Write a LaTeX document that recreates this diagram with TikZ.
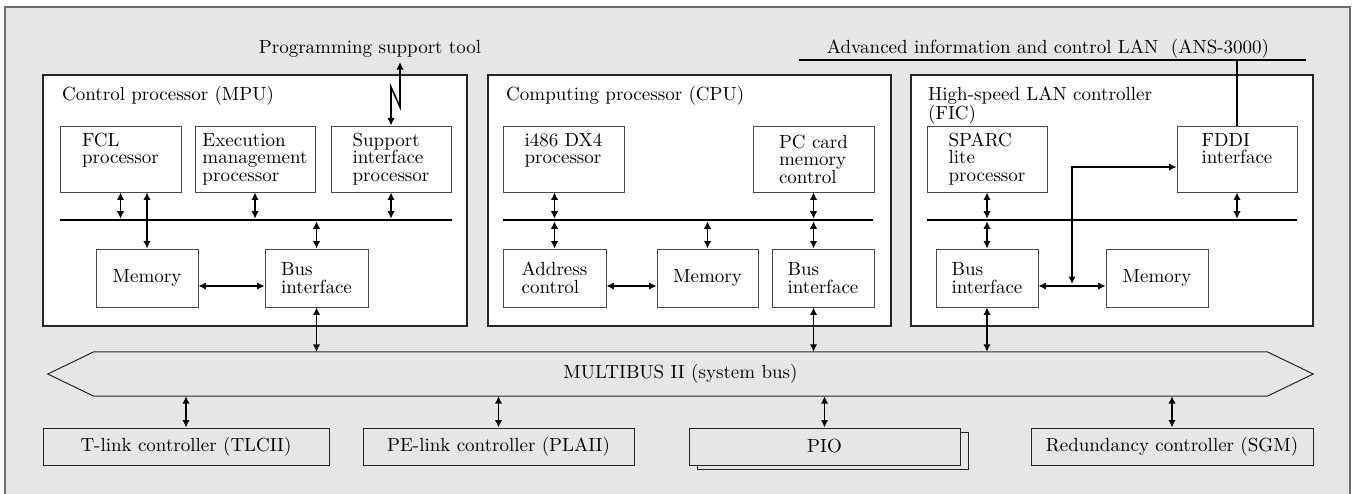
\documentclass[tikz,border=0pt]{standalone}
\usetikzlibrary{arrows.meta}
\definecolor{bg}{HTML}{E6E6E6}
\definecolor{frm}{HTML}{6E6E6E}
\definecolor{ibd}{HTML}{4A4A4A}
\font\bigrm="[lmroman10-regular]:mapping=tex-text" at 19pt
\newcommand\myfs{\fontsize{19}{17.5}\selectfont\bigrm}
\tikzset{
  ibox/.style={draw=ibd, line width=0.9pt, fill=white, inner sep=0pt, align=left, font=\myfs},
  mainbox/.style={draw=black!85, line width=1.2pt, fill=white, inner sep=0pt},
  lowbox/.style={draw=black!85, line width=1pt, fill=bg, inner sep=0pt, minimum height=37pt, font=\myfs},
  biar/.style={{Latex[length=7.5pt,width=7.5pt]}-{Latex[length=7.5pt,width=7.5pt]}, line width=1.6pt},
  busline/.style={line width=2.6pt},
  ttl/.style={font=\myfs, inner sep=0pt}
}
\begin{document}
\begin{tikzpicture}[x=1pt,y=-1pt]
\useasboundingbox (0,0) rectangle (1356,493);
\fill[white] (0,0) rectangle (1356,493);
\draw[frm, line width=1.2pt, fill=bg] (5,7) rectangle (1350,505);

% top texts
\node[ttl, anchor=base] (pst) at (370,53) {Programming support tool};
\node[ttl, anchor=base] (lan) at (1048,53) {Advanced information and control LAN\ \ (ANS-3000)};
\coordinate (lanL) at (799,60);
\coordinate (lanR) at (1306,60);
\draw[line width=1.2pt] (lanL) -- (lanR);

% main boxes
\node[mainbox, minimum width=424pt, minimum height=251pt] (mpu) at (255,200.5) {};
\node[mainbox, minimum width=403pt, minimum height=251pt] (cpu) at (689.5,200.5) {};
\node[mainbox, minimum width=402pt, minimum height=251pt] (fic) at (1112,200.5) {};
\node[ttl, anchor=base west] (mputtl) at (62,100) {Control processor (MPU)};
\node[ttl, anchor=base west] (cputtl) at (506,100) {Computing processor (CPU)};
\node[ttl, anchor=north west, align=left] (fictl) at (928,87) {High-speed LAN controller\\(FIC)};

% MPU inner
\node[ibox, minimum width=121pt, minimum height=66pt] (fcl) at (120.5,159) {FCL\\processor\\\phantom{p}};
\node[ibox, minimum width=120pt, minimum height=66pt] (exec) at (255,159) {Execution\\management\\processor};
\node[ibox, minimum width=120pt, minimum height=66pt] (supp) at (391,159) {Support\\interface\\processor};
\node[ibox, minimum width=102pt, minimum height=58pt] (mpumem) at (147,278) {Memory};
\node[ibox, minimum width=103pt, minimum height=58pt] (mpubi) at (316.5,278) {Bus\\interface};
\coordinate (mpubusL) at (60,220);
\coordinate (mpubusR) at (452,220);
\draw[busline] (mpubusL) -- (mpubusR);

% CPU inner
\node[ibox, minimum width=121pt, minimum height=66pt] (i486) at (563.5,159) {i486 DX4\\processor\\\phantom{p}};
\node[ibox, minimum width=121pt, minimum height=66pt] (pcc) at (813.5,159) {PC card\\memory\\control};
\node[ibox, minimum width=103pt, minimum height=58pt] (addr) at (554.5,278) {Address\\control};
\node[ibox, minimum width=101pt, minimum height=58pt] (cpumem) at (707.5,278) {Memory};
\node[ibox, minimum width=102pt, minimum height=58pt] (cpubi) at (823,278) {Bus\\interface};
\coordinate (cpubusL) at (503,220);
\coordinate (cpubusR) at (873,220);
\draw[busline] (cpubusL) -- (cpubusR);

% FIC inner
\node[ibox, minimum width=120pt, minimum height=66pt] (sparc) at (987,159) {SPARC\\lite\\processor};
\node[ibox, minimum width=120pt, minimum height=66pt] (fddi) at (1237,159) {FDDI\\interface\\\phantom{p}};
\node[ibox, minimum width=102pt, minimum height=58pt] (ficbi) at (987,278) {Bus\\interface};
\node[ibox, minimum width=102pt, minimum height=58pt] (ficmem) at (1157,278) {Memory};
\coordinate (ficbusL) at (927,220);
\coordinate (ficbusR) at (1297,220);
\draw[busline] (ficbusL) -- (ficbusR);

% MULTIBUS
\node[font=\myfs, inner sep=0pt, minimum width=1173pt, minimum height=44pt] (mb) at (680.5,374) {MULTIBUS II (system bus)};
\draw[line width=1pt, black!85] (mb.north west) -- (mb.north east) -- ([xshift=46pt]mb.east) -- (mb.south east) -- (mb.south west) -- ([xshift=-46pt]mb.west) -- cycle;

% lower boxes
\node[lowbox, minimum width=286pt] (tlink) at (186,446.5) {T-link controller (TLCII)};
\node[lowbox, minimum width=271pt] (pelink) at (498.5,446.5) {PE-link controller (PLAII)};
\node[lowbox, minimum width=271pt] (pioshadow) at (832.5,450.5) {};
\node[lowbox, minimum width=271pt] (pio) at (824.5,446.5) {PIO};
\node[lowbox, minimum width=282pt] (red) at (1172,446.5) {Redundancy controller (SGM)};

% programming support tool link
\coordinate (psttip) at (400,62);
\draw[biar, line join=miter] (psttip) -- (400,107) -- (391,87) -- (supp.north);

% LAN drop
\draw[line width=1.2pt] (fddi.north) -- (fddi.north |- lanL);

% MPU connectors
\draw[biar, shorten >=1.3pt] (fcl.south) -- (fcl.south |- mpubusL);
\draw[biar] (fcl.south -| mpumem.north) -- (mpumem.north);
\draw[biar, shorten >=1.3pt] (exec.south) -- (exec.south |- mpubusL);
\draw[biar, shorten >=1.3pt] (supp.south) -- (supp.south |- mpubusL);
\draw[biar, shorten <=1.3pt] (mpubi.north |- mpubusL) -- (mpubi.north);
\draw[biar] ([yshift=-8pt]mpumem.east) -- ([yshift=-8pt]mpubi.west);
\draw[biar] (mpubi.south) -- (mpubi.south |- mb.north);

% CPU connectors
\draw[biar, shorten >=1.3pt] (i486.south -| addr.north) -- (addr.north |- cpubusL);
\draw[biar, shorten <=1.3pt] (addr.north |- cpubusL) -- (addr.north);
\draw[biar, shorten <=1.3pt] (cpumem.north |- cpubusL) -- (cpumem.north);
\draw[biar, shorten >=1.3pt] (pcc.south) -- (pcc.south |- cpubusL);
\draw[biar, shorten <=1.3pt] (pcc.south |- cpubusL) -- (pcc.south |- cpubi.north);
\draw[biar] ([yshift=-8pt]addr.east) -- ([yshift=-8pt]cpumem.west);
\draw[biar] (pcc.south |- cpubi.south) -- (pcc.south |- mb.north);

% FIC connectors
\draw[biar, shorten >=1.3pt] (sparc.south) -- (sparc.south |- ficbusL);
\draw[biar, shorten <=1.3pt] (ficbi.north |- ficbusL) -- (ficbi.north);
\draw[biar, shorten >=1.3pt] (fddi.south) -- (fddi.south |- ficbusL);
\draw[biar] ([yshift=-8pt]ficbi.east) -- ([yshift=-8pt]ficmem.west);
\coordinate (fj) at (1072,284);
\draw[biar] ([yshift=-8pt]fddi.west) -| (fj);
\draw[biar] (ficbi.south) -- (ficbi.south |- mb.north);

% lower connectors
\draw[biar] (tlink.north |- mb.south) -- (tlink.north);
\draw[biar] (pelink.north |- mb.south) -- (pelink.north);
\draw[biar] (pio.north |- mb.south) -- (pio.north);
\draw[biar] (red.north |- mb.south) -- (red.north);
\end{tikzpicture}
\end{document}
